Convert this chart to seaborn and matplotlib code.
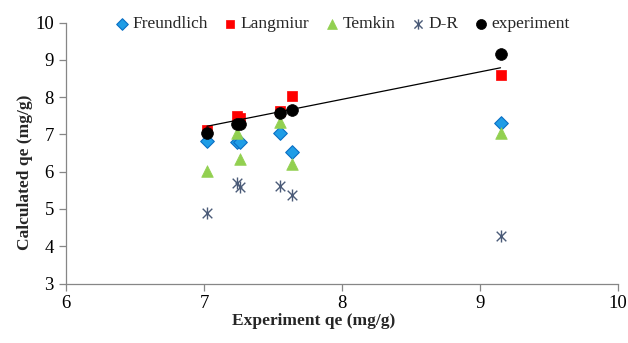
import numpy as np
import pandas as pd
import matplotlib
matplotlib.use("Agg")
import matplotlib.pyplot as plt
from matplotlib.path import Path
import seaborn as sns

# ---- data ----
x_exp = [7.02, 7.24, 7.26, 7.55, 7.64, 9.15]
freundlich = [6.82, 6.81, 6.81, 7.03, 6.52, 7.32]
langmuir = [7.12, 7.50, 7.45, 7.62, 8.03, 8.59]
temkin = [6.02, 7.05, 6.33, 7.34, 6.22, 7.03]
dr = [4.90, 5.70, 5.58, 5.62, 5.37, 4.28]
experiment = [7.05, 7.28, 7.28, 7.58, 7.67, 9.16]
trend_x = [7.02, 9.15]
trend_y = [7.22, 8.79]

x_ticks = [6, 7, 8, 9, 10]
y_ticks = [3, 4, 5, 6, 7, 8, 9, 10]

sns.set_theme(style="white")
plt.rcParams["font.family"] = ["Liberation Serif", "DejaVu Serif"]

# Excel-like star marker: an X plus a vertical bar
star = Path([(-0.8, -0.8), (0.8, 0.8), (-0.8, 0.8), (0.8, -0.8), (0, -1), (0, 1)],
            [Path.MOVETO, Path.LINETO, Path.MOVETO, Path.LINETO,
             Path.MOVETO, Path.LINETO])

W, H = 628, 343
fig = plt.figure(figsize=(W / 100, H / 100), dpi=100)
L, R, T, B = 66.3, 617.7, 22.7, 283.5
ax = fig.add_axes([L / W, 1 - B / H, (R - L) / W, (B - T) / H])

df = pd.DataFrame({"x": x_exp, "Freundlich": freundlich, "Langmiur": langmuir,
                   "Temkin": temkin, "D-R": dr, "experiment": experiment})

sns.scatterplot(data=df, x="x", y="Freundlich", ax=ax, marker="D", s=48,
                color="#1f9de6", edgecolor="#0b6fc4", linewidth=0.8,
                label="Freundlich", zorder=3)
sns.scatterplot(data=df, x="x", y="Langmiur", ax=ax, marker="s", s=52,
                color="#ff0000", edgecolor="#ff0000", linewidth=0.5,
                label="Langmiur", zorder=3)
sns.scatterplot(data=df, x="x", y="Temkin", ax=ax, marker="^", s=70,
                color="#92d050", edgecolor="#92d050", linewidth=0.5,
                label="Temkin", zorder=3)
sns.scatterplot(data=df, x="x", y="D-R", ax=ax, marker=star, s=75,
                color="#4b5b78", edgecolor="#4b5b78", linewidth=1.0,
                label="D-R", zorder=3)
sns.scatterplot(data=df, x="x", y="experiment", ax=ax, marker="o", s=72,
                color="black", edgecolor="black", linewidth=0.5,
                label="experiment", zorder=4)
sns.lineplot(x=trend_x, y=trend_y, ax=ax, color="black", linewidth=0.9,
             zorder=5, legend=False)

ax.set_xlim(6, 10)
ax.set_ylim(3, 10)
ax.set_xticks(x_ticks)
ax.set_yticks(y_ticks)
ax.set_xticklabels([str(t) for t in x_ticks])
ax.set_yticklabels([str(t) for t in y_ticks])

for s in ["top", "right"]:
    ax.spines[s].set_visible(False)
for s in ["left", "bottom"]:
    ax.spines[s].set_color("#868686")
    ax.spines[s].set_linewidth(0.9)
ax.tick_params(axis="both", direction="out", length=5, width=0.9,
               color="#868686", labelsize=13.5, labelcolor="black",
               bottom=True, left=True)
ax.tick_params(axis="y", pad=4)
ax.tick_params(axis="x", pad=3)

ax.set_xlabel("Experiment qe (mg/g)", fontsize=12.5, fontweight="bold")
ax.set_ylabel("Calculated qe (mg/g)", fontsize=12.5, fontweight="bold")
ax.xaxis.set_label_coords((314 - L) / (R - L), -(320.7 - B) / (B - T))
ax.yaxis.set_label_coords((25 - L) / (R - L), (B - 172.5) / (B - T))
ax.xaxis.label.set_va("center")
ax.yaxis.label.set_va("center")

handles, labels = ax.get_legend_handles_labels()
ax.legend_.remove()
fig.legend(handles, labels, loc="center", bbox_to_anchor=(343 / W, 1 - 24 / H),
           ncol=5, frameon=False, fontsize=12.5, handlelength=0.6,
           handletextpad=0.3, columnspacing=1.0, markerscale=0.85,
           borderaxespad=0)

ax.grid(False)
fig.savefig("out.png", dpi=100)
